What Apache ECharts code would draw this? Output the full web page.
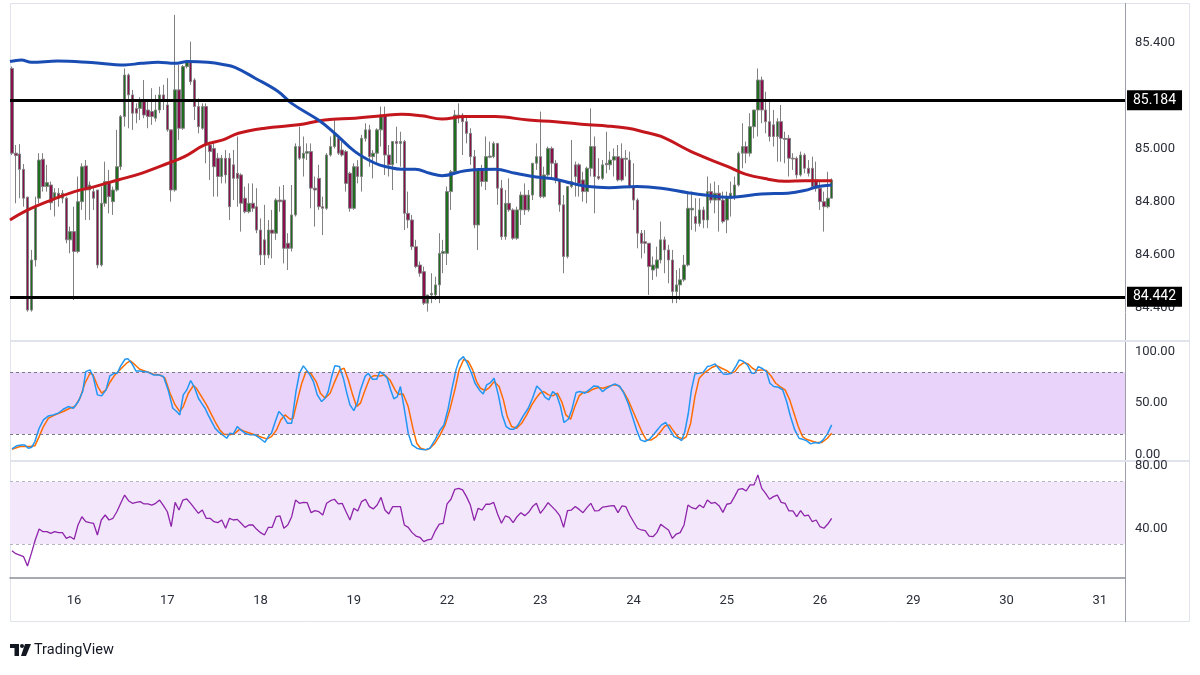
<!DOCTYPE html>
<html>
<head>
<meta charset="utf-8">
<script src="https://cdn.jsdelivr.net/npm/echarts@6.0.0/dist/echarts.min.js"></script>
<style>
  html, body { margin:0; padding:0; background:#fff; }
  #chart { width:1200px; height:675px; }
</style>
</head>
<body>
<div id="chart"></div>
<script>
// === Eje temporal (velas horarias, 24 por día hábil) ===
const DAY_LABELS = ['16','17','18','19','22','23','24','25','26','29','30','31'];
const FIRST_DAY_SLOT = 16;   // primera vela del día 16
const BARS_PER_DAY = 24;
const SLOTS = 287;           // huecos visibles (incluye días futuros)

// === Niveles / ticks ===
const LEVELS = [85.184, 84.442];
const PRICE_TICKS = [84.4, 84.6, 84.8, 85.0, 85.4];
const STOCH_TICKS = [0, 50, 100];
const RSI_TICKS = [40, 80];
const STOCH_BAND = [20, 80];
const RSI_BAND = [30, 70];

// === Velas [open, close, low, high] ===
const CANDLES = [
[85.304,84.984,84.977,85.311],[84.984,84.975,84.795,85.015],[84.981,84.923,84.814,85.018],[84.923,84.814,84.782,84.943],
[84.818,84.392,84.386,84.820],[84.392,84.581,84.386,84.619],[84.581,84.782,84.556,84.820],[84.814,84.958,84.795,84.984],
[84.961,84.858,84.839,84.984],[84.858,84.873,84.839,84.940],[84.864,84.797,84.770,84.877],[84.814,84.835,84.745,84.852],
[84.833,84.814,84.782,84.852],[84.814,84.833,84.795,84.845],[84.814,84.657,84.644,84.820],[84.657,84.688,84.606,84.707],
[84.688,84.613,84.430,84.782],[84.613,84.801,84.606,84.896],[84.801,84.933,84.770,84.946],[84.936,84.845,84.732,84.958],
[84.845,84.864,84.732,84.877],[84.839,84.814,84.770,84.852],[84.845,84.562,84.550,84.845],[84.562,84.795,84.556,84.858],
[84.795,84.877,84.782,84.952],[84.877,84.820,84.757,84.921],[84.801,84.845,84.751,84.858],[84.845,84.933,84.839,85.072],
[84.933,85.122,84.921,85.128],[85.122,85.279,85.084,85.304],[85.279,85.204,85.078,85.285],[85.204,85.135,85.072,85.223],
[85.153,85.135,85.097,85.172],[85.153,85.182,85.109,85.195],[85.182,85.128,85.116,85.260],[85.147,85.122,85.078,85.185],
[85.141,85.122,85.091,85.229],[85.116,85.147,85.103,85.204],[85.147,85.204,85.135,85.235],[85.204,85.179,85.147,85.242],
[85.166,85.072,85.065,85.267],[85.072,84.845,84.801,85.072],[84.845,85.223,84.839,85.506],[85.223,85.078,85.034,85.317],
[85.078,85.311,85.072,85.317],[85.311,85.330,85.304,85.336],[85.330,85.254,85.242,85.405],[85.260,85.160,85.109,85.267],
[85.160,85.084,85.059,85.191],[85.078,85.160,85.072,85.172],[85.160,85.015,84.946,85.172],[85.015,84.990,84.883,85.028],
[85.002,84.933,84.820,85.021],[84.965,84.896,84.820,84.984],[84.896,84.965,84.870,84.977],
[84.965,84.902,84.870,84.996],[84.965,84.782,84.732,84.984],[84.940,84.889,84.807,84.996],[84.908,84.889,84.782,85.047],
[84.902,84.795,84.688,84.908],[84.814,84.763,84.757,84.858],[84.763,84.795,84.757,84.870],[84.795,84.776,84.763,84.870],
[84.782,84.694,84.682,84.852],[84.694,84.600,84.562,84.738],[84.657,84.600,84.562,84.789],[84.600,84.694,84.587,84.732],
[84.694,84.682,84.587,84.770],[84.682,84.807,84.657,84.814],[84.807,84.801,84.763,84.858],[84.807,84.625,84.568,84.864],
[84.644,84.625,84.543,84.682],[84.625,84.751,84.613,84.864],[84.751,85.009,84.745,85.021],[85.009,84.965,84.958,85.084],
[84.965,84.984,84.896,85.047],[84.984,84.990,84.958,85.021],[84.990,84.852,84.776,85.021],[84.852,84.845,84.707,84.896],
[84.889,84.782,84.770,84.940],[84.782,84.776,84.675,84.820],[84.776,84.977,84.770,84.984],[84.977,85.009,84.971,85.047],
[85.009,85.057,85.002,85.109],[85.040,84.984,84.977,85.053],[84.996,84.977,84.971,85.028],[84.990,84.870,84.839,84.996],
[84.908,84.776,84.763,84.914],[84.776,84.933,84.770,84.946],[84.933,84.896,84.870,84.958],[84.896,85.040,84.839,85.053],
[85.040,85.072,85.028,85.097],[85.072,84.971,84.933,85.091],[84.971,84.984,84.889,84.996],[84.984,85.072,84.940,85.078],
[85.072,85.128,85.009,85.160],[85.128,84.977,84.902,85.160],[84.977,84.940,84.896,85.015],[84.940,85.028,84.845,85.028],
[85.028,85.021,84.946,85.084],[85.021,85.028,84.933,85.065],[85.028,84.757,84.694,85.034],[84.757,84.732,84.701,84.839],
[84.732,84.631,84.619,84.751],[84.631,84.556,84.550,84.657],[84.562,84.531,84.518,84.575],
[84.537,84.418,84.411,84.556],[84.418,84.449,84.386,84.449],[84.449,84.455,84.418,84.531],[84.449,84.487,84.430,84.518],
[84.487,84.606,84.418,84.682],[84.606,84.613,84.531,84.657],[84.606,84.839,84.562,84.858],[84.839,84.914,84.770,84.921],
[84.914,85.128,84.908,85.147],[85.128,85.122,85.097,85.172],[85.128,85.103,84.977,85.135],[85.103,85.059,85.021,85.122],
[85.059,84.971,84.940,85.078],[84.971,84.713,84.701,84.996],[84.713,84.921,84.619,84.921],[84.921,84.877,84.858,84.940],
[84.877,84.971,84.845,85.047],[84.969,84.973,84.965,85.028],[84.971,85.021,84.965,85.028],[85.021,84.852,84.789,85.021],
[84.852,84.669,84.657,84.883],[84.669,84.795,84.657,84.845],[84.795,84.770,84.763,84.889],[84.770,84.663,84.657,84.776],
[84.663,84.770,84.657,84.782],[84.770,84.826,84.713,84.839],[84.826,84.770,84.751,84.870],[84.770,84.826,84.763,84.845],
[84.826,84.946,84.807,84.946],[84.946,84.971,84.921,85.021],[84.971,84.820,84.814,85.141],[84.820,84.902,84.814,84.933],
[84.902,85.002,84.896,85.009],[85.002,84.946,84.883,85.009],[84.946,84.883,84.870,84.958],[84.883,84.789,84.763,84.883],
[84.789,84.594,84.531,84.826],[84.594,84.858,84.587,84.858],[84.858,84.877,84.852,85.034],[84.940,84.896,84.820,84.952],
[84.940,84.870,84.820,84.946],[84.883,84.839,84.801,84.914],[84.839,84.927,84.795,84.933],[84.927,85.009,84.896,85.153],
[85.009,84.896,84.757,85.047],[84.896,84.889,84.883,84.965],[84.889,84.940,84.883,84.958],[84.946,84.940,84.908,85.065],
[84.940,84.958,84.921,84.990],[84.958,84.971,84.896,85.002],[84.971,84.883,84.877,85.015],[84.965,84.883,84.877,85.021],
[84.961,84.965,84.896,84.996],
[84.958,84.858,84.852,84.990],[84.858,84.807,84.770,84.946],[84.807,84.682,84.625,84.814],[84.682,84.644,84.587,84.694],
[84.650,84.644,84.606,84.694],[84.644,84.556,84.449,84.644],[84.543,84.562,84.506,84.594],[84.550,84.581,84.518,84.631],
[84.581,84.657,84.568,84.726],[84.657,84.619,84.531,84.669],[84.619,84.581,84.493,84.638],[84.581,84.462,84.418,84.619],
[84.462,84.487,84.418,84.543],[84.487,84.506,84.430,84.550],[84.506,84.562,84.499,84.600],[84.562,84.776,84.556,84.839],
[84.770,84.776,84.694,84.839],[84.745,84.719,84.688,84.814],[84.719,84.770,84.707,84.814],[84.770,84.732,84.701,84.782],
[84.732,84.839,84.701,84.896],[84.839,84.807,84.795,84.870],[84.807,84.833,84.757,84.877],[84.833,84.807,84.688,84.864],
[84.807,84.726,84.719,84.839],[84.732,84.820,84.682,84.839],[84.814,84.833,84.745,84.877],[84.820,84.864,84.807,84.896],
[84.864,84.984,84.858,84.990],[84.984,85.009,84.927,85.097],[85.009,84.984,84.946,85.028],[84.984,85.084,84.971,85.135],
[85.084,85.147,85.040,85.147],[85.147,85.260,85.047,85.304],[85.260,85.147,85.097,85.273],[85.147,85.103,85.059,85.216],
[85.103,85.047,85.028,85.179],[85.091,85.047,85.009,85.147],[85.047,85.103,84.952,85.116],[85.103,85.040,84.952,85.166],
[85.040,85.036,84.946,85.065],[85.040,84.965,84.896,85.053],[84.965,84.962,84.921,84.984],[84.965,84.902,84.889,84.971],
[84.902,84.977,84.896,84.990],[84.977,84.927,84.908,84.984],[84.927,84.908,84.896,84.958],[84.927,84.858,84.852,84.971],
[84.883,84.852,84.839,84.952],[84.852,84.801,84.770,84.883],[84.801,84.782,84.688,84.839],[84.782,84.814,84.776,84.914],
[84.814,84.883,84.814,84.889]
];

// === Medias móviles [índice de vela, precio] ===
const MA_FAST = [
[-0.5,85.330],[2.4,85.336],[5,85.327],[11.8,85.332],[20.4,85.326],[29,85.317],[33.3,85.323],[37.6,85.327],
[41.9,85.323],[45.3,85.330],[50.4,85.327],[54.3,85.319],[57.4,85.308],[62.6,85.267],[68.6,85.216],[72,85.172],
[78.9,85.109],[83.1,85.059],[88.3,84.990],[93.5,84.946],[96.9,84.931],[100.3,84.923],[103.8,84.923],[107.6,84.908],
[110.7,84.899],[116.7,84.918],[124.4,84.923],[129.6,84.908],[135.6,84.893],[139.9,84.886],[144.2,84.870],[148.4,84.858],
[153.6,84.854],[160.9,84.858],[167.1,84.852],[174,84.835],[178.3,84.826],[184.3,84.818],[186.9,84.820],[192.9,84.830],
[199.7,84.833],[204,84.843],[207.5,84.858],[211,84.864]
];
const MA_SLOW = [
[-0.5,84.732],[4.1,84.770],[10.1,84.807],[16.1,84.839],[21.3,84.858],[27.3,84.883],[33.3,84.908],[40.2,84.946],
[44.4,84.971],[49.6,85.015],[54.3,85.034],[58.3,85.059],[65.1,85.078],[73.7,85.091],[80.5,85.109],[88.3,85.116],
[95.2,85.125],[100.3,85.131],[105.5,85.125],[110.7,85.113],[116.7,85.122],[124.4,85.122],[133,85.109],[139.9,85.103],
[148.4,85.091],[153,85.087],[158.6,85.078],[163,85.063],[167.1,85.047],[175.7,84.984],[184.3,84.933],[188.6,84.906],
[194.6,84.886],[198.9,84.878],[204,84.880],[211,84.880]
];

// === Estocástico [índice, valor] ===
const STOCH_K = [
[0,5.4],[1.2,8.4],[2.5,9.3],[3.3,9.3],[4.2,6.1],[5.1,7.1],[5.9,12.6],[7,25.5],[8.1,33.6],[9.4,37.5],[10.6,38.5],
[11.9,40.1],[13.2,44],[14.5,46.6],[15.8,45],[17.1,51.5],[18.2,61.2],[19,80.6],[20.1,82.3],[20.9,75.8],[22,58],
[23.1,57],[24.2,62.8],[25.2,76.4],[26.3,79],[27.1,79],[28,86.2],[29.1,92.6],[29.9,93],[30.8,88.8],[31.9,81.3],
[32.9,81.3],[34,80.6],[35.1,80],[36.4,77.4],[37.7,77.4],[39,75.8],[40.2,62.8],[41.4,45],[42.4,41.8],[43.2,38.5],
[44.1,58],[45,62.8],[46,71.9],[46.9,66.1],[48,54.7],[48.8,49.9],[49.7,45],[50.5,38.5],[51.4,32],[52.3,25.5],
[53.1,22.3],[54.2,19.1],[55.3,15.8],[56.1,20.7],[57,20],[58,27.2],[58.9,23.9],[60,20.7],[61.3,19.1],[62.5,19.1],
[63.8,15.8],[65.1,11.9],[66,17.4],[66.8,20.7],[67.7,31.1],[68.7,41.8],[69.8,37.5],[70.9,30.4],[72,30.4],[73.1,61.2],
[74,79],[75,86.2],[75.8,82.3],[76.7,77.4],[77.6,70.9],[78.6,58],[79.7,51.5],[80.6,54.7],[81.4,61.2],[82.3,75.8],
[83.1,86.2],[84.3,85.5],[85.3,74.2],[86.1,61.2],[87,48.2],[88,42.7],[88.9,49.9],[89.7,62.8],[90.9,75.8],[91.7,79],
[92.8,73.2],[93.9,73.2],[94.7,80.6],[95.8,77.4],[96.6,74.2],[97.5,62.8],[98.3,54.1],[99.2,56.3],[100,66.1],[100.9,46.6],
[102,20.7],[103,9.3],[104.2,6.1],[105.2,5.1],[106.3,4.5],[107.6,6.1],[108.9,14.2],[110.2,23.9],[111.2,28.8],[112.3,45],
[113.2,62.8],[114.3,82.3],[115.1,91.3],[116.2,95.2],[117.2,88.8],[118.3,79],[119.2,69.3],[120.3,62.8],[121.3,58.9],
[122.2,67.7],[123.2,70],[124.1,74.2],[125.2,58],[126.2,38.5],[127.2,27.2],[128.2,24.6],[129.2,24.6],[130.3,28.8],
[131.6,37.5],[132.9,45],[134,54.7],[135.1,66.7],[136.1,62.8],[137.2,55.7],[138.2,53.1],[139.2,61.2],[140.2,58],
[141.2,46.6],[142.1,31.1],[143.2,34.3],[144.1,43.4],[145.2,60.2],[146.2,61.2],[147.5,59.6],[148.8,63.5],[149.8,66.7],
[150.9,66.1],[152,61.2],[153.1,64.4],[154.1,66.7],[155.2,68.7],[156.5,66.1],[157.5,59.6],[158.6,49.9],[159.7,36.9],
[160.8,23.9],[161.8,14.2],[162.9,12.6],[164.1,14.8],[165.1,19.1],[166.1,23.9],[167.2,28.8],[168.3,31.1],[169.4,23.9],
[170.4,17.4],[171.5,15.8],[172.4,13.5],[173.2,22.3],[174.1,40.1],[174.9,62.8],[175.8,78.4],[176.9,79],[177.9,79.7],
[179,85.5],[179.8,86.2],[181,88.1],[182,83.2],[183.1,78.4],[184.1,78.1],[185.2,79],[186.4,86.2],[187.2,92],[188.2,90.7],
[189.3,87.1],[190.4,79],[191.2,79],[192.1,85.5],[193,83.9],[194.2,80.6],[195.1,69.3],[196.1,66.1],[197.3,65.4],
[198.4,62.8],[199.4,51.5],[200.4,36.9],[201.5,23.9],[202.6,15.8],[203.5,14.8],[204.5,13.5],[205.6,10.3],[206.7,11.6],
[207.8,11],[208.8,14.2],[209.9,20],[211,28.8]
];
const STOCH_D = [
[0,5.1],[2.1,7.7],[4.6,7.7],[5.9,8.4],[7,17.4],[8.1,27.2],[9.4,35.3],[11.1,38.5],[13.2,41.8],[14.9,45],[16.2,46.6],
[17.5,54.7],[18.8,69.3],[20.1,79],[20.9,77.4],[22.1,66.1],[23.1,59.6],[24.2,62.8],[25.2,70],[26.5,77.4],[28.2,83.9],
[29.5,88.8],[30.5,91],[31.7,87.1],[32.9,82.9],[34.7,80.6],[36.4,78.1],[38.1,77.4],[39.4,74.2],[40.7,59.6],[42,48.2],
[43.2,41.8],[44.1,46.6],[45.4,59.6],[46.7,67],[47.5,64.4],[48.8,56.3],[50.1,48.2],[51.4,38.5],[52.5,30.4],[53.5,23.9],
[54.6,19.7],[56.1,19.1],[57.4,20.7],[58.7,24.6],[60,22.3],[62.1,19.7],[64.3,16.8],[65.6,15.2],[66.8,17.4],[68.1,23.9],
[69.2,33.6],[70.3,38.5],[71.6,34.3],[72.4,35.3],[73.5,53.1],[74.6,69.3],[75.7,80.6],[76.9,79],[78.3,70.9],[79.4,59.6],
[80.6,54.7],[81.9,59.6],[83.1,70.9],[84.4,82.3],[85.5,83.9],[86.6,72.5],[87.7,58],[88.7,46.6],[89.7,49.9],[90.9,62.8],
[92.1,74.2],[93.2,76.8],[94.7,76.4],[96,77.4],[97.3,72.5],[98.6,62.8],[99.4,58.6],[100.7,58.9],[102,46.6],[103.3,23.9],
[104.2,11],[105.2,6.1],[106.7,4.5],[107.6,6.1],[108.9,11],[110.2,19.1],[111.5,28.8],[112.7,43.4],[114.1,64.4],
[115.1,82.3],[116.3,92.6],[117.5,90.4],[118.6,82.3],[119.6,70.9],[120.6,64.4],[121.8,62.2],[122.9,65.1],[124.1,70.9],
[125.4,66.1],[126.5,53.1],[127.5,36.9],[128.6,27.2],[129.9,25.5],[131.2,30.4],[132.5,38.5],[133.8,48.2],[134.9,54.7],
[135.9,59.6],[136.9,61.2],[138.1,58],[139.2,57],[140.4,59.6],[141.5,51.5],[142.6,38.5],[143.8,34.3],[144.9,46.6],
[146,57],[147.1,60.6],[148.3,60.6],[149.6,63.5],[150.9,65.1],[152.2,64.4],[153.5,66.1],[154.8,67.7],[156.1,67],
[157.4,61.2],[158.6,53.1],[159.9,41.8],[161.2,30.4],[162.3,20.7],[163.3,14.2],[164.6,14.2],[165.9,17.4],[167,22.3],
[168.1,27.8],[169.2,28.8],[170.4,22.3],[171.5,16.8],[172.8,15.2],[173.6,17.4],[174.7,30.4],[175.8,56.3],[176.9,74.2],
[178.1,79],[179.3,82.3],[180.3,84.9],[181.4,86.5],[182.7,83.9],[184,81.6],[185,79],[186.1,80.6],[187.2,86.2],[188.4,89.4],
[189.5,88.1],[190.6,83.9],[191.7,81.6],[193,82.3],[194.2,81.6],[195.5,75.8],[196.6,69.3],[197.7,66.1],[199,62.8],
[200.2,53.1],[201.3,40.1],[202.4,27.2],[203.5,17.4],[204.5,14.8],[205.8,13.2],[207.1,11.6],[208.4,11.6],[209.9,15.8],
[211,20.7]
];

// === RSI (uno por vela) ===
const RSI = [
25.7,23.8,22.9,21.9,15.9,24.0,32.6,39.6,37.9,37.9,
36.8,37.9,37.3,37.3,33.6,34.7,33.0,42.2,47.5,44.3,
43.7,43.3,35.8,45.4,48.6,45.4,46.5,50.7,56.1,61.4,
57.8,56.1,56.7,57.2,55.7,55.7,55.0,56.1,58.2,54.6,
50.7,41.1,56.7,51.8,58.2,58.9,56.1,52.9,49.7,51.8,
46.5,46.5,44.3,43.7,45.4,40.1,46.5,45.4,45.8,43.3,
40.7,42.2,42.2,39.4,37.3,35.8,40.7,40.7,47.5,48.0,
40.1,42.2,47.5,58.2,56.1,56.7,56.5,50.1,51.4,50.7,
48.6,56.1,57.8,58.7,55.7,56.1,50.7,45.4,52.9,51.2,
57.2,58.7,54.0,52.5,55.0,59.9,51.8,49.3,54.0,54.0,
54.0,42.2,40.7,37.3,35.1,34.3,31.5,32.6,33.2,38.6,
42.8,43.3,55.7,58.7,65.1,65.7,64.7,60.4,55.0,45.0,
52.9,51.8,55.5,55.5,56.7,49.3,43.3,48.0,47.1,43.7,
47.5,50.1,48.2,50.3,54.0,56.1,49.7,52.9,56.5,54.0,
51.4,48.2,40.7,51.4,51.8,54.0,52.2,50.1,53.3,56.1,
51.2,51.4,53.6,54.0,54.4,54.6,50.1,54.4,54.0,48.6,
44.3,40.1,39.0,38.6,35.1,34.7,37.3,42.6,40.7,39.0,
33.6,36.4,37.3,42.2,55.0,53.3,52.5,55.0,53.3,58.2,
56.1,56.7,54.6,50.3,55.5,56.1,60.4,65.1,65.5,64.0,
67.9,67.9,74.3,65.7,62.5,58.7,60.4,61.4,56.7,56.1,
51.2,51.2,47.5,51.4,48.0,48.6,44.3,45.4,41.1,40.1,
42.8,46.5
];

// === Estilo ===
const txt = '#2a2e39', font = 'Roboto';
const grids = [
  { left:10, right:75, top:4,   height:336 },
  { left:10, right:75, top:342, height:118 },
  { left:10, right:75, top:462, height:116 }
];

const cats = [];
for (let k = 0; k < SLOTS; k++) {
  const d = k - FIRST_DAY_SLOT;
  cats.push(d >= 0 && d % BARS_PER_DAY === 0 ? (DAY_LABELS[d / BARS_PER_DAY] || '') : '');
}

const hiddenVal = g => ({ type:'value', gridIndex:g, min:-0.5, max:SLOTS - 0.5, show:false });
const rightAxis = (g, min, max, ticks, dec) => ({
  type:'value', gridIndex:g, position:'right', min, max,
  axisLine:{ show:false }, axisTick:{ show:false }, splitLine:{ show:false },
  axisLabel:{ customValues:ticks, formatter:v => v.toFixed(dec), color:txt, fontSize:13, fontFamily:font, margin:10 }
});
const band = (lo, hi, fill, dash) => ({
  markArea:{ silent:true, itemStyle:{ color:fill }, data:[[{ yAxis:lo }, { yAxis:hi }]] },
  markLine:{ silent:true, symbol:['none','none'], label:{ show:false },
    lineStyle:{ color:dash, type:[3,3], width:1 }, data:[{ yAxis:lo }, { yAxis:hi }] }
});

const option = {
  animation:false,
  backgroundColor:'#ffffff',
  grid: grids,
  xAxis: [
    { type:'category', gridIndex:0, data:cats, show:false },
    hiddenVal(0),
    hiddenVal(1),
    { type:'category', gridIndex:2, data:cats,
      axisLine:{ lineStyle:{ color:'#8c8f98', width:1.5 } }, axisTick:{ show:false }, splitLine:{ show:false },
      axisLabel:{ interval:(i, v) => v !== '', color:txt, fontSize:13, fontFamily:font, margin:16 } }
  ],
  yAxis: [
    rightAxis(0, 84.279, 85.547, PRICE_TICKS, 3),
    rightAxis(1, -5.35, 109.4, STOCH_TICKS, 2),
    rightAxis(2, 8.2, 82.6, RSI_TICKS, 2)
  ],
  series: [
    { type:'candlestick', xAxisIndex:0, yAxisIndex:0, data:CANDLES, barWidth:3,
      itemStyle:{ color:'#1f6e1f', color0:'#8a0f4c', borderColor:'#808080', borderColor0:'#808080', borderWidth:1 } },
    { type:'line', xAxisIndex:1, yAxisIndex:0, data:MA_SLOW, smooth:0.4, symbol:'none', z:3,
      lineStyle:{ color:'#c4171d', width:3 } },
    { type:'line', xAxisIndex:1, yAxisIndex:0, data:MA_FAST, smooth:0.4, symbol:'none', z:4,
      lineStyle:{ color:'#1a4db3', width:3 },
      markLine:{ silent:true, symbol:['none','none'], precision:3,
        lineStyle:{ color:'#000', width:3, type:'solid' },
        label:{ position:'end', distance:2, formatter:p => Number(p.value).toFixed(3),
          backgroundColor:'#000', color:'#fff', fontSize:14, fontFamily:font, padding:[3,6] },
        data: LEVELS.map(v => ({ yAxis:v })) } },
    { type:'line', xAxisIndex:2, yAxisIndex:1, data:STOCH_D, symbol:'none', z:3,
      lineStyle:{ color:'#ff6d00', width:1.5 }, ...band(STOCH_BAND[0], STOCH_BAND[1], '#e9d3fb', '#787b86') },
    { type:'line', xAxisIndex:2, yAxisIndex:1, data:STOCH_K, symbol:'none', z:4,
      lineStyle:{ color:'#2196f3', width:1.5 } },
    { type:'line', xAxisIndex:3, yAxisIndex:2, data:RSI, symbol:'none', z:3,
      lineStyle:{ color:'#8e24aa', width:1.3 }, ...band(RSI_BAND[0], RSI_BAND[1], '#f3e7fc', '#b2b5be') }
  ],
  graphic: [
    { type:'rect', silent:true, shape:{ x:10.5, y:3.5, width:1179, height:618 }, style:{ fill:'none', stroke:'#e0e3eb', lineWidth:1 } },
    { type:'line', silent:true, shape:{ x1:1125.5, y1:3, x2:1125.5, y2:622 }, style:{ stroke:'#9b9ea6', lineWidth:1 } },
    { type:'line', silent:true, shape:{ x1:10, y1:341, x2:1190, y2:341 }, style:{ stroke:'#e0e3eb', lineWidth:2 } },
    { type:'line', silent:true, shape:{ x1:10, y1:461, x2:1190, y2:461 }, style:{ stroke:'#e0e3eb', lineWidth:2 } },
    // logo TradingView
    { type:'rect', silent:true, shape:{ x:10, y:644, width:9, height:4 }, style:{ fill:'#131722' } },
    { type:'rect', silent:true, shape:{ x:14.5, y:644, width:4.5, height:12 }, style:{ fill:'#131722' } },
    { type:'circle', silent:true, shape:{ cx:22, cy:646, r:2 }, style:{ fill:'#131722' } },
    { type:'polygon', silent:true, shape:{ points:[[25,644],[31,644],[26,656],[21,656]] }, style:{ fill:'#131722' } },
    { type:'text', silent:true, x:34, y:650, style:{ text:'TradingView', fill:'#131722', fontSize:14.5, fontFamily:font, verticalAlign:'middle' } }
  ]
};

const chart = echarts.init(document.getElementById('chart'));
chart.setOption(option);
</script>
</body>
</html>
